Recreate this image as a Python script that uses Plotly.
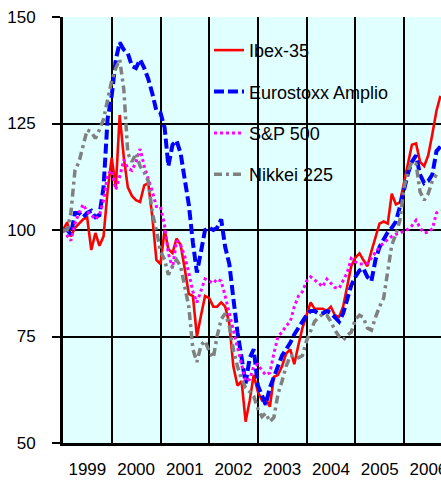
import pandas as pd
import plotly.graph_objects as go

# Monthly observations, Jan 1999 onwards (base 100)
start_month = "1999-01-01"

ibex35 = [100, 101.8, 98.5, 100.5, 101.5, 102.5, 103, 95.3, 99.3, 96.3, 98.5, 109,
          117, 110, 127, 117, 110, 108, 107, 106.6, 110.5, 111, 103, 93,
          92, 100, 95.5, 94.6, 98, 96.5, 91, 85, 84.5, 75, 80, 84.5,
          84, 82, 82, 83, 82, 78, 68, 63.5, 64.5, 55, 60, 66,
          62, 60, 60.5, 58.5, 65.5, 66, 68, 71, 72, 68.5, 73, 77,
          80, 83, 81.5, 81.5, 81.5, 81, 82, 80, 79.6, 82, 87, 91.5,
          93.5, 94.5, 93, 91.5, 95, 98.5, 101.5, 102, 101.5, 108.5, 106, 106.5,
          111, 116, 120, 120.3, 116, 115, 117.5, 122.5, 128, 131.5]

eurostoxx_amplio = [100, 100, 99, 104, 104, 103, 104, 104.5, 103, 103.5, 110, 126,
                    131.5, 140, 144, 142.3, 141.5, 138.5, 138, 140, 138, 135.5, 132, 128,
                    127.5, 124, 115, 120, 121, 118, 112, 106, 97, 90, 95, 100,
                    100.5, 100, 100.5, 102.5, 96, 92, 84, 76, 70, 64, 70, 72,
                    63.5, 61, 59, 63, 65.5, 68.5, 70.5, 72, 73.5, 75.5, 77, 78.5,
                    80, 81, 81, 80.4, 80.4, 81, 80.5, 79.5, 78.5, 80.4, 84, 87,
                    89, 90.5, 91, 89, 88, 93, 96, 98, 99.5, 100.5, 102, 105.5,
                    110, 113.5, 116, 117.5, 113, 111, 111.5, 113, 118.5, 119.6]

sp500 = [100, 98.8, 97.5, 101.5, 104, 106, 104.3, 103.5, 102.5, 103.5, 107, 113,
         114, 109.5, 112.5, 116.5, 114.5, 114, 116, 119, 115, 112, 109, 105.5,
         105.5, 101, 94.5, 91, 97.5, 96.5, 94, 90, 85.5, 83, 86, 88.5,
         88, 87.5, 88.5, 88, 84.5, 80.5, 76, 72, 68, 64.5, 65, 68,
         68.5, 67, 66, 66.5, 71, 75, 76, 77.5, 78.5, 82, 84.5, 85.5,
         88, 89, 88.3, 87.5, 86.7, 88.5, 87.5, 86.5, 86.3, 88, 90, 93.3,
         92.5, 92, 92, 92.2, 93.5, 95, 96, 97, 97.8, 98.5, 99, 99.2,
         99.8, 100.2, 101, 102.3, 100.5, 99.3, 99.5, 100.3, 104, 104.7]

nikkei225 = [100, 100, 104, 114, 116, 120, 123.5, 123, 121.5, 123.5, 126, 130.5,
             135, 138, 140, 133, 118, 116, 118, 115, 113.5, 111.5, 104, 100,
             95, 93, 89.5, 91.5, 93, 91.5, 87, 82, 72, 69, 73, 74,
             71.5, 70, 75, 79, 80.4, 77.5, 72, 68, 65, 63, 62, 61,
             58, 56.2, 57, 55, 56, 61.5, 64.5, 68, 70.5, 70.5, 70, 70.5,
             74, 76.5, 78.5, 79.5, 80.3, 80, 78.5, 76.5, 75, 74.2, 75.3, 76,
             79, 80, 79.5, 77, 76.5, 79.5, 82, 84, 91, 96.5, 99, 102.3,
             110, 114, 116, 115.5, 109, 107, 108.5, 111.5, 113]

series_names = ["Ibex-35", "Eurostoxx Amplio", "S&P 500", "Nikkei 225"]
series_values = [ibex35, eurostoxx_amplio, sp500, nikkei225]
series_colors = ["#FF0000", "#0000FF", "#FF00FF", "#808080"]
series_widths = [2.6, 4, 3, 3.5]
series_dash = ["solid", "10px,4px", "3px,3px", "8px,4px,3px,4px"]

y_ticks = [50, 75, 100, 125, 150]

fig = go.Figure()
for name, vals, col, w, d in zip(series_names, series_values, series_colors,
                                 series_widths, series_dash):
    dates = pd.date_range(start_month, periods=len(vals), freq="MS")
    fig.add_trace(go.Scatter(x=dates, y=vals, mode="lines", name=name,
                             legendgroup=name,
                             line=dict(color=col, width=w, dash=d)))

fig.update_layout(
    width=441, height=480,
    margin=dict(l=63, r=0, t=17, b=37, autoexpand=False),
    paper_bgcolor="white",
    plot_bgcolor="#E0FFFF",
    font=dict(family="Liberation Sans, Arial, sans-serif", color="black", size=17),
    legend=dict(x=0.3862, y=0.965, xanchor="left", yanchor="top",
                bgcolor="rgba(0,0,0,0)", font=dict(size=18),
                traceorder="grouped", tracegroupgap=15),
    showlegend=True,
)
fig.update_xaxes(
    type="date",
    range=["1999-01-01", "2006-10-05"],
    dtick="M12", tick0="1999-01-01",
    ticklabelmode="period", tickformat="%Y",
    ticklabeloverflow="allow",
    automargin=False,
    showgrid=True, gridcolor="black", gridwidth=1.5,
    showline=True, linecolor="black", linewidth=3,
    ticks="", ticklabelstandoff=9,
    zeroline=False,
)
fig.update_yaxes(
    range=[50, 150],
    tickvals=y_ticks,
    automargin=False,
    ticklabeloverflow="allow",
    showgrid=True, gridcolor="black", gridwidth=1.5,
    showline=True, linecolor="black", linewidth=3,
    ticks="outside", ticklen=8, tickwidth=1.5, tickcolor="black",
    ticklabelstandoff=13,
    zeroline=False,
)

fig.write_html(
    "out.html",
    config={"displayModeBar": False},
    post_script="document.body.style.margin='0';"
                "document.documentElement.style.overflow='hidden';"
                "document.body.style.overflow='hidden';",
)
